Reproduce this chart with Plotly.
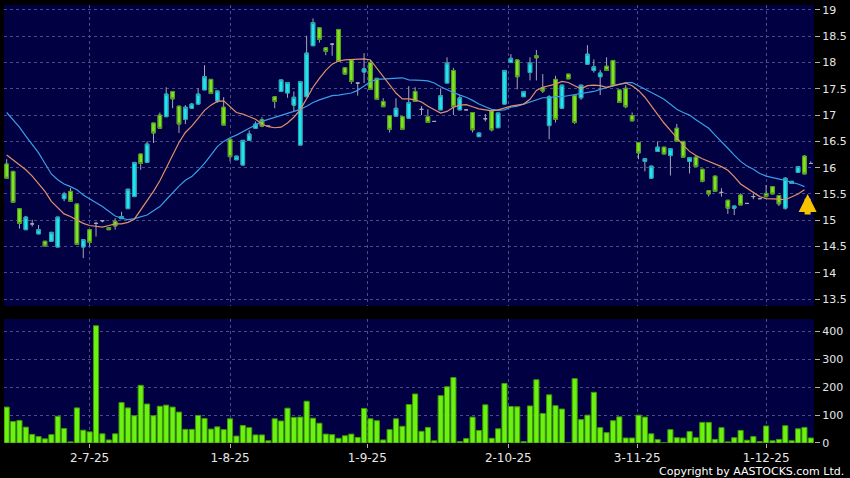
import plotly.graph_objects as go

opens = [16.07, 15.93, 15.22, 14.82, 14.93, 14.74, 14.60, 14.60, 14.49, 15.41,
         15.55, 15.31, 14.49, 14.82, 14.94, 14.99, 14.86, 14.98, 15.03, 15.22,
         15.45, 16.26, 16.10, 16.85, 17.00, 16.97, 17.45, 17.17, 16.92, 17.13,
         17.21, 17.48, 17.68, 17.27, 17.15, 16.54, 16.15, 16.05, 16.52, 16.75,
         16.91, 16.79, 17.35, 17.45, 17.42, 17.19, 16.43, 17.35, 18.32, 18.66,
         18.28, 18.35, 18.63, 17.90, 18.05, 17.61, 17.82, 18.00, 17.70, 17.26,
         16.99, 16.98, 16.97, 16.94, 17.45, 17.11, 16.97, 16.88, 17.10, 17.61,
         17.85, 17.10, 17.10, 17.05, 16.59, 16.93, 17.08, 16.76, 17.21, 18.00,
         18.05, 17.35, 17.81, 18.13, 17.52, 16.80, 17.68, 17.13, 17.78, 17.37,
         17.33, 17.97, 17.85, 17.73, 17.93, 18.04, 17.48, 17.51, 16.99, 16.48,
         16.12, 15.80, 16.31, 16.39, 16.23, 16.75, 16.50, 16.12, 16.20, 15.97,
         15.56, 15.84, 15.53, 15.38, 15.23, 15.48, 15.32, 15.45, 15.41, 15.51,
         15.64, 15.47, 15.23, 15.70, 15.91, 16.22, 16.08]
highs = [16.16, 15.93, 15.22, 15.08, 15.01, 14.91, 14.60, 14.77, 15.06, 15.54,
         15.61, 15.31, 14.63, 14.82, 14.97, 15.00, 14.86, 15.04, 15.16, 15.59,
         16.10, 16.26, 16.50, 16.85, 17.05, 17.53, 17.45, 17.17, 17.19, 17.23,
         17.51, 17.95, 17.68, 17.46, 17.34, 16.54, 16.22, 16.52, 16.71, 16.88,
         16.96, 16.79, 17.35, 17.67, 17.62, 17.45, 17.64, 18.51, 18.84, 18.66,
         18.28, 18.37, 18.63, 17.90, 18.05, 17.63, 18.18, 18.05, 17.70, 17.32,
         16.99, 17.32, 16.97, 17.55, 17.53, 17.17, 17.11, 16.88, 17.51, 18.10,
         17.90, 17.38, 17.10, 17.05, 16.66, 17.02, 17.10, 17.04, 17.85, 18.16,
         18.05, 17.45, 18.10, 18.24, 17.78, 17.38, 17.75, 17.57, 17.78, 17.37,
         17.57, 18.33, 18.06, 17.86, 18.10, 18.04, 17.48, 17.57, 17.05, 16.48,
         16.17, 16.03, 16.50, 16.39, 16.36, 16.83, 16.50, 16.19, 16.24, 15.97,
         15.56, 15.84, 15.61, 15.38, 15.27, 15.51, 15.32, 15.51, 15.41, 15.67,
         15.64, 15.47, 15.82, 15.74, 16.02, 16.24, 16.12]
lows = [15.80, 15.34, 14.84, 14.82, 14.88, 14.74, 14.51, 14.60, 14.49, 15.36,
        15.36, 14.54, 14.28, 14.50, 14.69, 14.96, 14.82, 14.82, 15.03, 15.22,
        15.45, 15.96, 16.10, 16.47, 16.75, 16.97, 17.13, 16.66, 16.83, 17.13,
        17.21, 17.48, 17.41, 17.23, 16.81, 16.12, 16.15, 16.05, 16.52, 16.75,
        16.77, 16.79, 17.13, 17.45, 17.33, 17.07, 16.43, 17.35, 18.32, 18.38,
        18.14, 18.13, 18.02, 17.78, 17.59, 17.37, 17.61, 17.49, 17.30, 17.16,
        16.67, 16.98, 16.73, 16.94, 17.26, 17.00, 16.86, 16.88, 17.10, 17.61,
        17.00, 17.10, 17.10, 16.67, 16.59, 16.88, 16.69, 16.76, 17.21, 18.00,
        17.49, 17.35, 17.66, 17.66, 17.42, 16.54, 16.86, 17.13, 17.69, 16.83,
        17.29, 17.97, 17.81, 17.38, 17.85, 17.56, 17.24, 17.13, 16.89, 16.16,
        15.93, 15.80, 16.31, 16.26, 15.85, 16.50, 16.20, 15.89, 16.02, 15.72,
        15.45, 15.55, 15.45, 15.12, 15.10, 15.29, 15.32, 15.40, 15.41, 15.45,
        15.50, 15.27, 15.20, 15.70, 15.91, 15.88, 16.08]
closes = [15.80, 15.34, 14.94, 15.06, 14.93, 14.82, 14.51, 14.77, 15.06, 15.50,
          15.36, 14.54, 14.63, 14.58, 14.94, 14.99, 14.82, 14.89, 15.07, 15.59,
          16.10, 16.08, 16.45, 16.66, 16.75, 17.40, 17.31, 16.83, 17.15, 17.21,
          17.40, 17.73, 17.41, 17.46, 16.81, 16.21, 16.22, 16.52, 16.64, 16.83,
          16.79, 16.79, 17.26, 17.67, 17.62, 17.34, 17.64, 18.18, 18.76, 18.44,
          18.21, 18.35, 18.02, 17.78, 17.64, 17.61, 17.88, 17.49, 17.30, 17.16,
          16.73, 17.13, 16.73, 17.24, 17.26, 17.11, 16.86, 16.88, 17.37, 17.99,
          17.16, 17.33, 17.10, 16.72, 16.66, 16.93, 16.72, 17.04, 17.85, 18.08,
          17.73, 17.45, 17.99, 18.09, 17.46, 17.35, 16.92, 17.57, 17.69, 16.86,
          17.57, 18.16, 17.92, 17.80, 17.85, 17.56, 17.24, 17.16, 16.89, 16.28,
          16.17, 16.03, 16.39, 16.26, 16.36, 16.50, 16.20, 16.19, 16.02, 15.74,
          15.50, 15.55, 15.53, 15.23, 15.27, 15.29, 15.32, 15.45, 15.41, 15.45,
          15.50, 15.31, 15.80, 15.74, 16.02, 15.88, 16.08]
volumes = [129, 77, 81, 57, 31, 23, 15, 30, 96, 52,
           4, 126, 46, 40, 421, 33, 11, 33, 145, 126,
           98, 207, 140, 98, 132, 136, 129, 111, 49, 49,
           99, 88, 50, 58, 48, 87, 25, 63, 55, 29,
           29, 8, 87, 79, 125, 92, 93, 150, 89, 71,
           32, 30, 17, 26, 32, 20, 124, 87, 80, 11,
           48, 87, 60, 138, 176, 42, 56, 8, 170, 202,
           235, 5, 16, 93, 45, 137, 17, 51, 214, 131,
           130, 5, 133, 227, 106, 173, 134, 122, 2, 231,
           84, 100, 182, 55, 37, 80, 94, 18, 18, 100,
           93, 33, 12, 1, 48, 19, 18, 41, 19, 74,
           74, 13, 55, 4, 19, 45, 10, 23, 5, 61,
           8, 13, 62, 8, 51, 56, 18]
ma_short = [16.24, 16.15, 16.05, 15.96, 15.84, 15.70, 15.55, 15.36, 15.23, 15.12,
            15.07, 15.01, 14.94, 14.90, 14.88, 14.87, 14.90, 14.93, 14.93, 14.96,
            15.02, 15.19, 15.36, 15.55, 15.75, 15.99, 16.24, 16.48, 16.67, 16.79,
            16.94, 17.09, 17.19, 17.26, 17.27, 17.15, 17.05, 17.02, 16.97, 16.92,
            16.83, 16.78, 16.76, 16.77, 16.85, 16.96, 17.10, 17.32, 17.53, 17.70,
            17.85, 17.97, 18.03, 18.05, 18.06, 18.06, 18.07, 18.05, 17.89, 17.73,
            17.56, 17.42, 17.31, 17.31, 17.29, 17.25, 17.17, 17.10, 17.04, 17.07,
            17.15, 17.19, 17.20, 17.16, 17.12, 17.10, 17.08, 17.10, 17.14, 17.17,
            17.19, 17.21, 17.30, 17.47, 17.53, 17.56, 17.59, 17.64, 17.62, 17.56,
            17.50, 17.56, 17.57, 17.56, 17.53, 17.56, 17.59, 17.61, 17.56, 17.47,
            17.34, 17.17, 17.00, 16.85, 16.71, 16.56, 16.43, 16.31, 16.23, 16.17,
            16.12, 16.07, 16.02, 15.95, 15.83, 15.69, 15.61, 15.53, 15.45, 15.41,
            15.41, 15.40, 15.39, 15.44, 15.50, 15.58, None]
ma_long = [17.05, 16.92, 16.77, 16.60, 16.45, 16.28, 16.08, 15.88, 15.77, 15.69,
           15.64, 15.58, 15.48, 15.41, 15.34, 15.26, 15.17, 15.08, 15.04, 15.01,
           15.03, 15.06, 15.10, 15.18, 15.26, 15.39, 15.53, 15.65, 15.76, 15.83,
           15.95, 16.08, 16.24, 16.40, 16.50, 16.57, 16.62, 16.69, 16.75, 16.81,
           16.88, 16.92, 16.96, 16.99, 17.03, 17.07, 17.11, 17.17, 17.24, 17.29,
           17.33, 17.37, 17.38, 17.40, 17.42, 17.47, 17.56, 17.64, 17.68, 17.69,
           17.70, 17.71, 17.71, 17.67, 17.67, 17.66, 17.65, 17.61, 17.54, 17.48,
           17.43, 17.38, 17.34, 17.28, 17.21, 17.16, 17.11, 17.09, 17.10, 17.15,
           17.17, 17.21, 17.25, 17.30, 17.33, 17.33, 17.35, 17.35, 17.37, 17.38,
           17.40, 17.43, 17.45, 17.49, 17.52, 17.56, 17.59, 17.62, 17.62, 17.56,
           17.50, 17.44, 17.37, 17.30, 17.21, 17.11, 17.05, 17.00, 16.91, 16.83,
           16.75, 16.62, 16.50, 16.37, 16.24, 16.12, 16.03, 15.97, 15.89, 15.84,
           15.81, 15.79, 15.76, 15.72, 15.69, 15.64, None]
price_ticks = [13.5, 14, 14.5, 15, 15.5, 16, 16.5, 17, 17.5, 18, 18.5, 19]
price_tick_labels = ["13.5", "14", "14.5", "15", "15.5", "16", "16.5", "17",
                     "17.5", "18", "18.5", "19"]
volume_ticks = [0, 100, 200, 300, 400]
tick_positions = [13, 35, 56.5, 78.6, 98.8, 119]
tick_labels = ["2-7-25", "1-8-25", "1-9-25", "2-10-25", "3-11-25", "1-12-25"]
signal_index = 125.5
signal_price = 15.5

n = len(closes)
idx = list(range(n))

BG = "#000000"
PANEL = "#000042"
GRID = "#4a4a86"
WICK = "#a8a8b8"
UP_FILL, UP_LINE = "#22e4f0", "#1aa6b4"
DN_FILL, DN_LINE = "#7ee61e", "#4c9a12"
TXT = "#e6e6e6"
FONT = "DejaVu Sans"

body_hi = [max(o, c) if o != c else None for o, c in zip(opens, closes)]
body_lo = [min(o, c) if o != c else None for o, c in zip(opens, closes)]
body_o = [o if o != c else None for o, c in zip(opens, closes)]
body_c = [c if o != c else None for o, c in zip(opens, closes)]

fig = go.Figure()
fig.add_trace(go.Candlestick(
    x=idx, open=opens, high=highs, low=lows, close=closes,
    increasing=dict(line=dict(color=WICK, width=1), fillcolor=WICK),
    decreasing=dict(line=dict(color=WICK, width=1), fillcolor=WICK),
    whiskerwidth=0, hoverinfo="skip", showlegend=False, xaxis="x", yaxis="y"))
fig.add_trace(go.Candlestick(
    x=idx, open=body_o, high=body_hi, low=body_lo, close=body_c,
    increasing=dict(line=dict(color=UP_LINE, width=1), fillcolor=UP_FILL),
    decreasing=dict(line=dict(color=DN_LINE, width=1), fillcolor=DN_FILL),
    whiskerwidth=0, showlegend=False, xaxis="x", yaxis="y"))
fig.add_trace(go.Scatter(x=idx, y=ma_long, mode="lines",
                         line=dict(color="#3a9ee6", width=1.2),
                         showlegend=False, xaxis="x", yaxis="y"))
fig.add_trace(go.Scatter(x=idx, y=ma_short, mode="lines",
                         line=dict(color="#e0906c", width=1.2),
                         showlegend=False, xaxis="x", yaxis="y"))
fig.add_trace(go.Bar(x=idx, y=volumes,
                     marker=dict(color="#6cf210", line=dict(color="#3f9a06", width=1)),
                     showlegend=False, xaxis="x2", yaxis="y2"))

xr = [-0.42, 126.5]
axis_common = dict(showline=False, zeroline=False, gridcolor=GRID, griddash="dot",
                   gridwidth=1, automargin=False)
yfont = dict(size=11, color=TXT, family=FONT)
xfont = dict(size=12, color=TXT, family=FONT)
fig.update_layout(
    width=850, height=478,
    paper_bgcolor=BG, plot_bgcolor=PANEL,
    margin=dict(l=4, r=36, t=5, b=35, autoexpand=False),
    boxgap=0.2, bargap=0.2,
    font=dict(family=FONT, color=TXT, size=11),
    xaxis=dict(domain=[0, 1], range=xr, anchor="y", tickvals=tick_positions,
               showticklabels=False, ticks="", rangeslider=dict(visible=False),
               **axis_common),
    yaxis=dict(domain=[0.313, 1], range=[13.37, 19.095], side="right",
               tickvals=price_ticks, ticktext=price_tick_labels,
               ticks="outside", ticklen=5, tickcolor="#b0b0b0",
               tickfont=yfont, anchor="x", **axis_common),
    xaxis2=dict(domain=[0, 1], range=xr, anchor="y2", tickvals=tick_positions,
                ticktext=tick_labels, ticks="outside", ticklen=4, tickcolor="#b0b0b0",
                tickfont=xfont, **axis_common),
    yaxis2=dict(domain=[0, 0.283], range=[0, 445], side="right",
                tickvals=volume_ticks, ticks="outside", ticklen=5,
                tickcolor="#b0b0b0", tickfont=yfont, anchor="x2", **axis_common),
    annotations=[
        dict(x=signal_index, y=signal_price, xref="x", yref="y", ax=0, ay=22,
             showarrow=True, arrowhead=2, arrowsize=0.6, arrowwidth=6,
             arrowcolor="#f5c300", text=""),
        dict(x=1.0395, y=-0.064, xref="paper", yref="paper", xanchor="right",
             yanchor="middle", showarrow=False,
             text="Copyright by AASTOCKS.com Ltd.",
             font=dict(size=11, color="#ffffff", family=FONT)),
    ],
)

fig.write_html("out.html", config={"displayModeBar": False},
               post_script="document.body.style.margin='0px';"
                           "document.body.style.background='#000000';")
